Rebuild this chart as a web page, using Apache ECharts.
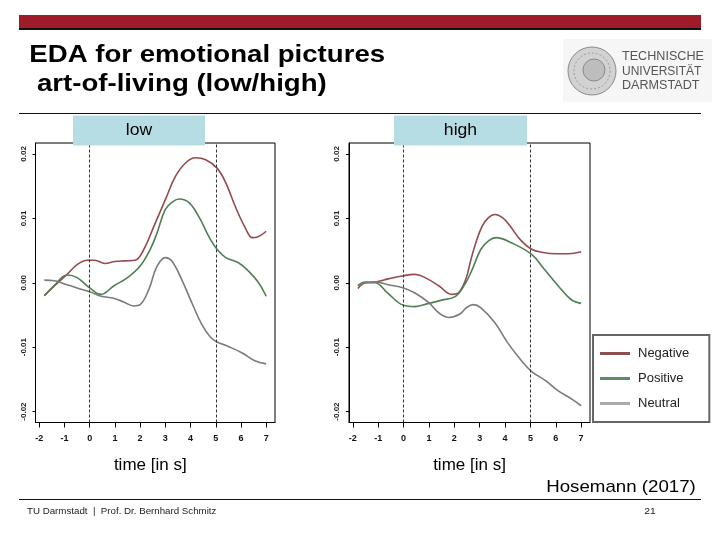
<!DOCTYPE html>
<html>
<head>
<meta charset="utf-8">
<script src="https://cdn.jsdelivr.net/npm/echarts@6/dist/echarts.min.js"></script>
<style>
html,body{margin:0;padding:0;background:#fff;}
#chart{width:720px;height:540px;}
</style>
</head>
<body>
<div id="chart"></div>
<script>
// ---- data (x = time in s, y = EDA) ----
var xTicks = [-2, -1, 0, 1, 2, 3, 4, 5, 6, 7];
var yTicks = [-0.02, -0.01, 0.00, 0.01, 0.02];
var seriesNames = ['Negative', 'Positive', 'Neutral'];
var panelTitles = ['low', 'high'];

var lowNegative = [[-1.8,-0.0020],[-1.4,-0.0005],[-0.9,0.0013],[-0.5,0.0028],[-0.1,0.0035],[0.2,0.0035],[0.6,0.0030],[1.0,0.0033],[1.4,0.0034],[1.8,0.0035],[2.15,0.0052],[2.55,0.0088],[3.0,0.0129],[3.4,0.0165],[3.8,0.0186],[4.2,0.0194],[4.6,0.0191],[5.05,0.0178],[5.4,0.0155],[5.8,0.0116],[6.2,0.0083],[6.45,0.0070],[6.65,0.0071],[7.0,0.0080]];
var lowPositive = [[-1.8,-0.0020],[-1.4,-0.0004],[-0.9,0.0012],[-0.5,0.0008],[0.0,-0.0008],[0.45,-0.0018],[0.95,-0.0005],[1.5,0.0008],[2.0,0.0026],[2.4,0.0052],[2.65,0.0075],[3.0,0.0114],[3.3,0.0126],[3.55,0.0130],[3.95,0.0124],[4.35,0.0101],[4.75,0.0070],[5.05,0.0052],[5.4,0.0039],[5.9,0.0031],[6.3,0.0018],[6.7,0.0000],[7.0,-0.0021]];
var lowNeutral = [[-1.8,0.0004],[-1.4,0.0003],[-0.9,-0.0003],[-0.5,-0.0008],[0.0,-0.0014],[0.45,-0.0021],[0.95,-0.0024],[1.35,-0.0030],[1.75,-0.0036],[2.0,-0.0034],[2.35,-0.0010],[2.65,0.0024],[3.0,0.0039],[3.25,0.0034],[3.65,0.0005],[4.05,-0.0031],[4.45,-0.0065],[4.8,-0.0085],[5.05,-0.0092],[5.5,-0.0099],[6.05,-0.0109],[6.55,-0.0121],[7.0,-0.0126]];

var highNegative = [[-1.8,-0.0009],[-1.5,0.0000],[-1.1,0.0001],[-0.6,0.0006],[0.0,0.0011],[0.45,0.0013],[0.85,0.0008],[1.4,-0.0005],[1.9,-0.0018],[2.15,-0.0016],[2.45,0.0005],[2.65,0.0035],[2.85,0.0062],[3.1,0.0088],[3.35,0.0101],[3.6,0.0106],[3.9,0.0101],[4.2,0.0088],[4.6,0.0067],[5.05,0.0052],[5.5,0.0047],[6.0,0.0045],[6.5,0.0045],[7.0,0.0048]];
var highPositive = [[-1.8,-0.0004],[-1.5,0.0001],[-1.1,0.0000],[-0.6,-0.0017],[0.0,-0.0035],[0.45,-0.0037],[1.0,-0.0032],[1.5,-0.0027],[2.05,-0.0021],[2.45,0.0000],[2.7,0.0020],[3.05,0.0052],[3.35,0.0065],[3.65,0.0070],[4.25,0.0062],[5.05,0.0044],[5.55,0.0021],[6.1,-0.0005],[6.6,-0.0026],[7.0,-0.0032]];
var highNeutral = [[-1.8,-0.0005],[-1.5,0.0000],[-1.1,0.0001],[-0.6,-0.0003],[0.0,-0.0008],[0.45,-0.0016],[1.0,-0.0031],[1.4,-0.0047],[1.8,-0.0054],[2.2,-0.0049],[2.5,-0.0038],[2.75,-0.0034],[3.05,-0.0039],[3.6,-0.0062],[4.1,-0.0093],[4.65,-0.0121],[5.05,-0.0138],[5.6,-0.0152],[6.1,-0.0168],[6.65,-0.0181],[7.0,-0.0191]];

var markTimes = [0, 5];

// ---- styling ----
var FONT = '"Liberation Sans", Arial, sans-serif';
var lineColors = ['#964a4e', '#4f7f55', '#7b7b7b'];
var legendColors = ['#8b4f52', '#5f8a68', '#aaaaaa'];
var SX = 1.15;

var chart = echarts.init(document.getElementById('chart'), null, {renderer: 'canvas'});

function xAxisCfg(gridIndex, namePad) {
  return {
    type: 'value', gridIndex: gridIndex, min: -2.15, max: 7.35,
    name: 'time [in s]', nameLocation: 'middle', nameGap: 34,
    nameTextStyle: {fontFamily: FONT, fontSize: 17, color: '#000', padding: namePad},
    axisLine: {show: true, onZero: false, lineStyle: {color: '#000', width: 1}},
    axisTick: {show: true, length: 5, lineStyle: {color: '#000'}, customValues: xTicks},
    axisLabel: {show: true, margin: 12, fontFamily: FONT, fontSize: 9, fontWeight: 'bold', color: '#111', customValues: xTicks,
                formatter: function (v) { return String(v); }},
    splitLine: {show: false}
  };
}
function yAxisCfg(gridIndex) {
  return {
    type: 'value', gridIndex: gridIndex, min: -0.0217, max: 0.0217,
    axisLine: {show: true, onZero: false, lineStyle: {color: '#000', width: 1}},
    axisTick: {show: true, length: 3, lineStyle: {color: '#000'}, customValues: yTicks},
    axisLabel: {show: true, rotate: 90, margin: 8, fontFamily: FONT, fontSize: 8, fontWeight: 'bold', color: '#222', customValues: yTicks,
                formatter: function (v) { return v.toFixed(2); }},
    splitLine: {show: false}
  };
}

function lineSeries(name, data, idx, panel) {
  var s = {
    name: name, type: 'line', xAxisIndex: panel, yAxisIndex: panel,
    data: data, smooth: 0.4, showSymbol: false, symbol: 'none',
    lineStyle: {color: lineColors[idx], width: 1.6},
    itemStyle: {color: lineColors[idx]},
    z: 3
  };
  if (idx === 0) {
    s.markLine = {
      silent: true, symbol: ['none', 'none'], label: {show: false},
      lineStyle: {color: '#333', type: [3, 2], width: 1},
      data: markTimes.map(function (t) { return {xAxis: t}; })
    };
  }
  return s;
}

var lowSets = [lowNegative, lowPositive, lowNeutral];
var highSets = [highNegative, highPositive, highNeutral];
var series = [];
seriesNames.forEach(function (n, i) { series.push(lineSeries(n, lowSets[i], i, 0)); });
seriesNames.forEach(function (n, i) { series.push(lineSeries(n, highSets[i], i, 1)); });

function txt(x, y, text, size, opts) {
  opts = opts || {};
  return {
    type: 'text', x: x, y: y, scaleX: opts.sx || SX, z: 100,
    style: {text: text, fontFamily: FONT, fontSize: size, fontWeight: opts.bold ? 'bold' : 'normal',
            fill: opts.color || '#000', align: opts.align || 'left', verticalAlign: 'middle'}
  };
}

var graphics = [
  // header bar and rules
  {type: 'rect', shape: {x: 19, y: 15, width: 682, height: 13}, style: {fill: '#9e1c2a'}, z: 90},
  {type: 'rect', shape: {x: 19, y: 28, width: 682, height: 2}, style: {fill: '#111'}, z: 90},
  {type: 'rect', shape: {x: 19, y: 113, width: 682, height: 1}, style: {fill: '#111'}, z: 90},
  {type: 'rect', shape: {x: 19, y: 499, width: 682, height: 1}, style: {fill: '#111'}, z: 90},
  // title
  txt(29.3, 55.6, 'EDA for emotional pictures', 24, {bold: true}),
  txt(29.3, 83.9, ' art-of-living (low/high)', 24, {bold: true}),
  // logo
  {type: 'rect', shape: {x: 563, y: 39, width: 149, height: 63}, style: {fill: '#f6f6f6'}, z: 90},
  {type: 'circle', shape: {cx: 592, cy: 71, r: 24}, style: {fill: '#d2d2d2', stroke: '#8a8a8a', lineWidth: 1}, z: 91},
  {type: 'circle', shape: {cx: 592, cy: 71, r: 18}, style: {fill: 'none', stroke: '#9a9a9a', lineWidth: 1, lineDash: [2, 2]}, z: 92},
  {type: 'circle', shape: {cx: 594, cy: 70, r: 11}, style: {fill: '#bdbdbd', stroke: '#8a8a8a', lineWidth: 1}, z: 92},
  txt(622, 57, 'TECHNISCHE', 12, {color: '#555', sx: 1.05}),
  txt(622, 71.5, 'UNIVERSITÄT', 12, {color: '#555', sx: 1.0}),
  txt(622, 86, 'DARMSTADT', 12, {color: '#555', sx: 1.05}),
  // panel labels
  {type: 'rect', shape: {x: 73, y: 115.5, width: 132, height: 30}, style: {fill: '#b7dde4'}, z: 95},
  {type: 'rect', shape: {x: 394, y: 115.5, width: 133, height: 30}, style: {fill: '#b7dde4'}, z: 95},
  txt(139, 131, panelTitles[0], 16, {align: 'center', sx: 1.1}),
  txt(460.5, 131, panelTitles[1], 16, {align: 'center', sx: 1.1}),
  // source & footer
  txt(621, 487, 'Hosemann (2017)', 17, {align: 'center', sx: 1.1}),
  txt(27, 512, 'TU Darmstadt  |  Prof. Dr. Bernhard Schmitz', 9, {color: '#222', sx: 1.08}),
  txt(650, 512, '21', 9, {color: '#222', align: 'center'})
];

var option = {
  animation: false,
  backgroundColor: '#fff',
  textStyle: {fontFamily: FONT},
  grid: [
    {left: 35.5, top: 143, width: 239.5, height: 279.5, show: true, borderColor: '#000', borderWidth: 1, backgroundColor: 'transparent'},
    {left: 349, top: 143, width: 241, height: 279.5, show: true, borderColor: '#000', borderWidth: 1, backgroundColor: 'transparent'}
  ],
  xAxis: [xAxisCfg(0, [0, 10, 0, 0]), xAxisCfg(1, [0, 0, 0, 0])],
  yAxis: [yAxisCfg(0), yAxisCfg(1)],
  legend: {
    orient: 'vertical', left: 593, top: 335,
    backgroundColor: '#fff', borderColor: '#666', borderWidth: 2,
    padding: [11, 20, 11, 7], itemGap: 10, itemWidth: 30, itemHeight: 3,
    icon: 'rect', selectedMode: false,
    textStyle: {fontFamily: FONT, fontSize: 13, color: '#222', lineHeight: 15, padding: [0, 0, 0, 3]},
    data: seriesNames.map(function (n, i) { return {name: n, itemStyle: {color: legendColors[i]}}; })
  },
  graphic: graphics,
  series: series
};
chart.setOption(option);
</script>
</body>
</html>
